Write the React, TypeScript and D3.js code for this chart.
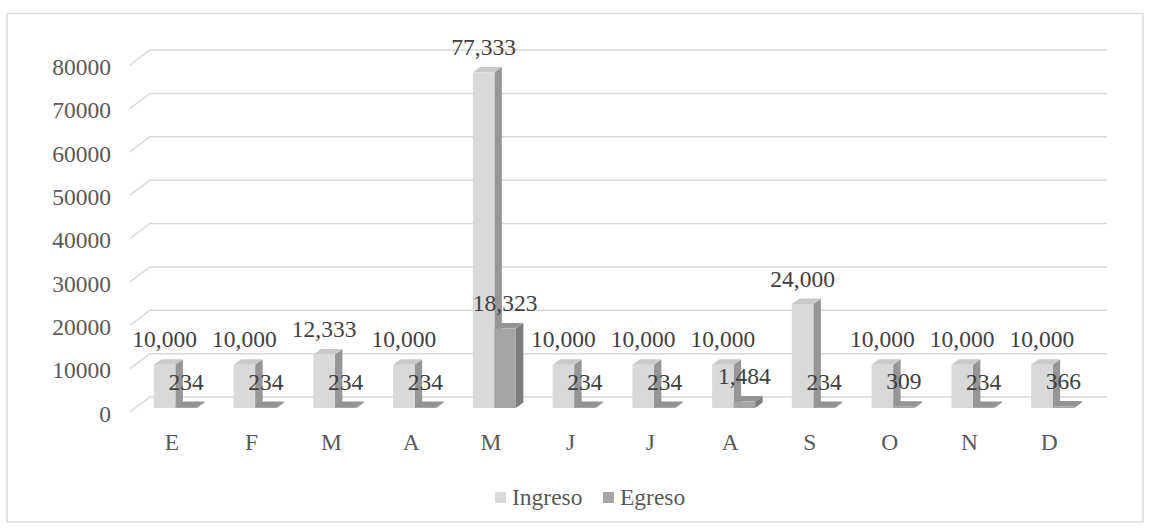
import * as d3 from 'd3';

const months = ['E', 'F', 'M', 'A', 'M', 'J', 'J', 'A', 'S', 'O', 'N', 'D'];
const ingreso = [10000, 10000, 12333, 10000, 77333, 10000, 10000, 10000, 24000, 10000, 10000, 10000];
const egreso = [234, 234, 234, 234, 18323, 234, 234, 1484, 234, 309, 234, 366];
const yTicks = [0, 10000, 20000, 30000, 40000, 50000, 60000, 70000, 80000];
const seriesNames = ['Ingreso', 'Egreso'];

const W = 1151;
const H = 529;
const FS = 23.5;
const TEXT = '#595959';
const GRID = '#d9d9d9';
const textStyle = { fontFamily: 'Liberation Serif', fontSize: FS + 'px' };

// floor depth (back wall offset) and bar placement inside it
const DEPTH_X = 20;
const DEPTH_Y = -15;
const BAR_OX = 5.5;
const BAR_OY = -4;
const BAR_DX = 7.5;
const BAR_DY = -5.5;
const BAR_W = 21.5;

const colors = [
  { front: '#d9d9d9', side: '#969696', top: '#c9c9c9' },
  { front: '#a5a5a5', side: '#7c7c7c', top: '#939393' },
];

export default function App() {
  const x = d3.scaleBand<number>()
    .domain(months.map((_, i) => i))
    .range([130, 1087])
    .padding(0);
  const y = d3.scaleLinear().domain([0, 80000]).range([412, 65]);
  const fmt = d3.format(',');

  const base = y(0) + BAR_OY;

  const barShape = (x0: number, v: number) => {
    const top = y(v) + BAR_OY;
    const x1 = x0 + BAR_W;
    return {
      front: `M${x0},${top}L${x1},${top}L${x1},${base}L${x0},${base}Z`,
      side: `M${x1},${top}L${x1 + BAR_DX},${top + BAR_DY}L${x1 + BAR_DX},${base + BAR_DY}L${x1},${base}Z`,
      top: `M${x0},${top}L${x0 + BAR_DX},${top + BAR_DY}L${x1 + BAR_DX},${top + BAR_DY}L${x1},${top}Z`,
      cx: x0 + BAR_W / 2,
      ty: top,
    };
  };

  const series = [ingreso, egreso];
  const bars = months.map((_, i) => {
    const c = (x(i) ?? 0) + x.bandwidth() / 2 + BAR_OX;
    return series.map((vals, s) => ({ s, v: vals[i], ...barShape(s === 0 ? c - BAR_W : c, vals[i]) }));
  });

  return (
    <div style={{ position: 'absolute', left: 0, top: 0 }}>
      <svg width={W} height={H} style={{ display: 'block', background: '#fff', fontFamily: 'Liberation Serif' }}>
        <rect x={7} y={13.5} width={1136} height={508.5} fill="#fff" stroke={GRID} strokeWidth={1.3} />

        {/* gridlines: short diagonal on the side wall, then along the back wall */}
        {yTicks.map((t) => (
          <path
            key={'g' + t}
            d={`M130,${y(t)}L${130 + DEPTH_X},${y(t) + DEPTH_Y}L${1087 + DEPTH_X},${y(t) + DEPTH_Y}`}
            fill="none"
            stroke={GRID}
            strokeWidth={1.5}
          />
        ))}

        {yTicks.map((t) => (
          <text key={'yl' + t} x={111} y={y(t) + 2 + FS * 0.33} textAnchor="end" style={textStyle} fill={TEXT}>
            {t}
          </text>
        ))}

        {bars.map((group, i) => (
          <g key={'b' + i}>
            {group.map((b) => (
              <g key={b.s}>
                <path d={b.side} fill={colors[b.s].side} />
                <path d={b.top} fill={colors[b.s].top} />
                <path d={b.front} fill={colors[b.s].front} />
              </g>
            ))}
          </g>
        ))}

        {bars.map((group, i) =>
          group.map((b) => (
            <text
              key={'dl' + i + '-' + b.s}
              x={b.cx}
              y={b.ty - 25 + FS * 0.33}
              textAnchor="middle"
              style={textStyle}
              fill="#404040"
            >
              {fmt(b.v)}
            </text>
          ))
        )}

        {months.map((m, i) => (
          <text
            key={'m' + i}
            x={(x(i) ?? 0) + x.bandwidth() / 2 + 2}
            y={442.5 + FS * 0.33}
            textAnchor="middle"
            style={textStyle}
            fill={TEXT}
          >
            {m}
          </text>
        ))}

        {seriesNames.map((name, s) => {
          const lx = s === 0 ? 495 : 603;
          return (
            <g key={'lg' + s}>
              <rect x={lx} y={492} width={11} height={11} fill={colors[s].front} />
              <text x={lx + 17} y={505} style={textStyle} fill={TEXT}>
                {name}
              </text>
            </g>
          );
        })}
      </svg>
    </div>
  );
}
